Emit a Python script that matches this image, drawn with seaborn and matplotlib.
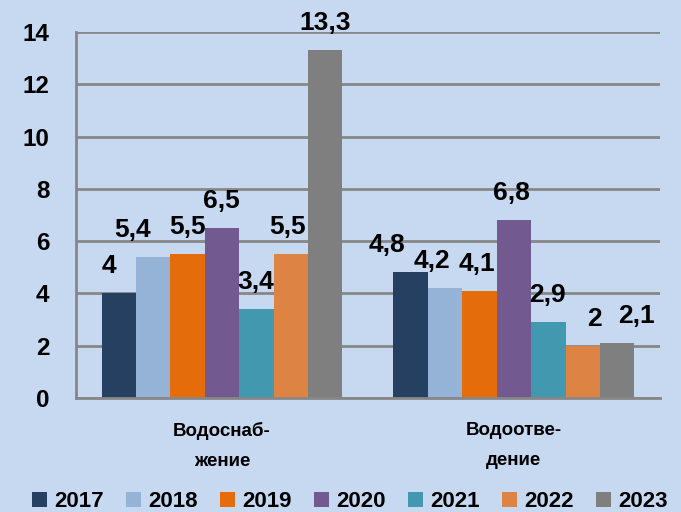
import pandas as pd
import matplotlib.pyplot as plt
import seaborn as sns

categories = ["Водоснаб-\nжение", "Водоотве-\nдение"]
years = ["2017", "2018", "2019", "2020", "2021", "2022", "2023"]
supply = [4, 5.4, 5.5, 6.5, 3.4, 5.5, 13.3]
sewage = [4.8, 4.2, 4.1, 6.8, 2.9, 2, 2.1]
colors = ["#254061", "#95B3D7", "#E46C0A", "#725990", "#4198AF", "#DD8444", "#7F7F7F"]

# horizontal nudges of the value labels (pixels), as Excel placed them
label_dx = [[-10, -21, 0, -1, -1, -3, 0],
            [-24, -13, -3, -2, -1, 12, 19]]

df = pd.DataFrame({
    "Категория": [categories[0]] * len(years) + [categories[1]] * len(years),
    "Год": years + years,
    "Значение": supply + sewage,
})

bg = "#C6D9F1"
sns.set_style("white")
plt.rcParams["font.family"] = ["Liberation Sans", "DejaVu Sans"]
plt.rcParams["font.weight"] = "bold"
plt.rcParams["text.color"] = "black"

fig = plt.figure(figsize=(6.81, 5.12), dpi=100, facecolor=bg)
ax = fig.add_axes([0.1116, 0.2227, 0.8574, 0.7148])
ax.set_facecolor(bg)

sns.barplot(data=df, x="Категория", y="Значение", hue="Год",
            palette=colors, width=0.825, gap=0, saturation=1,
            edgecolor="none", ax=ax, legend=True)

ax.set_ylim(0, 14)
ax.set_xlim(-0.5, 1.5)
ax.set_yticks(range(0, 15, 2))
ax.yaxis.grid(True, color="#878787", linewidth=2)
ax.set_axisbelow(True)
ax.set_xlabel("")
ax.set_ylabel("")

for s in ["top", "right"]:
    ax.spines[s].set_visible(False)
for s in ["left", "bottom"]:
    ax.spines[s].set_color("#878787")
    ax.spines[s].set_linewidth(2)

ax.tick_params(axis="y", length=7, width=2, color="#878787", labelsize=17.5,
               labelcolor="black", pad=12)
ax.tick_params(axis="x", which="major", length=0, labelsize=13.5,
               labelcolor="black", pad=17)
ax.set_xticks([-0.5, 0.5, 1.5], minor=True)
ax.tick_params(axis="x", which="minor", length=6, width=2, color="#878787")
for lbl in ax.get_xticklabels() + ax.get_yticklabels():
    lbl.set_fontweight("bold")
for lbl in ax.get_xticklabels():
    lbl.set_linespacing(2.0)

for cont, dxs in zip(ax.containers, zip(*label_dx)):
    for bar, dx in zip(cont, dxs):
        h = bar.get_height()
        txt = f"{h:g}".replace(".", ",")
        ax.annotate(txt, (bar.get_x() + bar.get_width() / 2, h),
                    xytext=(dx * 0.72, 19.5), textcoords="offset points",
                    ha="center", va="center", fontsize=19, fontweight="bold",
                    annotation_clip=False)

handles, labels = ax.get_legend_handles_labels()
leg = ax.legend(handles, labels, loc="lower center", bbox_to_anchor=(0.514, -0.04),
                bbox_transform=fig.transFigure, ncol=7, frameon=False,
                fontsize=16, handlelength=0.65, handleheight=0.65,
                handletextpad=0.35, columnspacing=1.0)
for t in leg.get_texts():
    t.set_fontweight("bold")

fig.savefig("out.png", dpi=100, facecolor=bg)
